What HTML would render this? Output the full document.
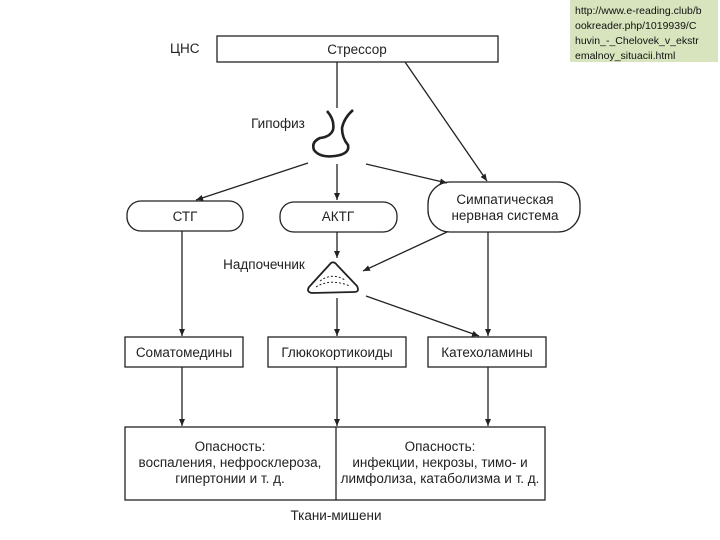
<!DOCTYPE html>
<html><head><meta charset="utf-8"><style>
html,body{margin:0;padding:0;background:#fff;}
body{width:720px;height:540px;overflow:hidden;position:relative;font-family:"Liberation Sans",sans-serif;}
.note{position:absolute;left:570px;top:0;width:148px;height:62px;background:#d7e4bd;font-size:10.5px;line-height:15px;color:#111;padding:4px 0 0 5px;box-sizing:border-box;}
svg{position:absolute;left:0;top:0;}
svg text{font-family:"Liberation Sans",sans-serif;fill:#222;}
</style></head><body>
<svg width="720" height="540" viewBox="0 0 720 540">
<defs><marker id="a" markerWidth="8" markerHeight="8" refX="7" refY="3" orient="auto" markerUnits="userSpaceOnUse"><path d="M0,0 L7,3 L0,6 Z" fill="#222"/></marker></defs>
<g stroke="#222" stroke-width="1.3" fill="none">
<rect x="217" y="36" width="281" height="26"/>
<rect x="127" y="201" width="116" height="30" rx="14"/>
<rect x="280" y="202" width="117" height="30" rx="14"/>
<rect x="428" y="182" width="152" height="50" rx="22"/>
<rect x="125" y="337" width="118" height="30"/>
<rect x="268" y="337" width="138" height="30"/>
<rect x="428" y="337" width="118" height="30"/>
<rect x="125" y="427" width="420" height="73"/>
<line x1="336" y1="427" x2="336" y2="500"/>
<line x1="337" y1="62" x2="337" y2="108"/>
<line x1="405" y1="62" x2="487" y2="181" marker-end="url(#a)"/>
<line x1="308" y1="163" x2="196" y2="200" marker-end="url(#a)"/>
<line x1="337" y1="164" x2="337" y2="200" marker-end="url(#a)"/>
<line x1="366" y1="164" x2="447" y2="183" marker-end="url(#a)"/>
<line x1="182" y1="231" x2="182" y2="336" marker-end="url(#a)"/>
<line x1="337" y1="232" x2="337" y2="258" marker-end="url(#a)"/>
<line x1="488" y1="232" x2="488" y2="336" marker-end="url(#a)"/>
<line x1="447" y1="232" x2="363" y2="271" marker-end="url(#a)"/>
<line x1="337" y1="298" x2="337" y2="336" marker-end="url(#a)"/>
<line x1="366" y1="296" x2="479" y2="336" marker-end="url(#a)"/>
<line x1="182" y1="367" x2="182" y2="426" marker-end="url(#a)"/>
<line x1="337" y1="367" x2="337" y2="426" marker-end="url(#a)"/>
<line x1="488" y1="367" x2="488" y2="426" marker-end="url(#a)"/>
<path d="M327,111 Q335,120 333,130 Q330,137 320,138 Q311,142 314,150 Q320,158 335,156 Q350,154 348,145 Q342,138 342,128 Q344,118 353,110" stroke-width="2.6"/>
<path d="M331,263 Q334,261 337,265 L357,286 Q360,292 354,292 L312,293 Q306,292 309,287 Z" stroke-width="1.8"/>
<path d="M316,287 Q330,278 350,286 M320,281 Q332,272 345,280" stroke-width="1" stroke-dasharray="2,2"/>
</g>
<g font-size="13.5" text-anchor="middle">
<text x="170" y="53" text-anchor="start">ЦНС</text>
<text x="357" y="54">Стрессор</text>
<text x="278" y="128">Гипофиз</text>
<text x="185" y="221">СТГ</text>
<text x="338" y="221">АКТГ</text>
<text x="505" y="204">Симпатическая</text>
<text x="505" y="220">нервная система</text>
<text x="264" y="269">Надпочечник</text>
<text x="184" y="357">Соматомедины</text>
<text x="337" y="357">Глюкокортикоиды</text>
<text x="487" y="357">Катехоламины</text>
<text x="230" y="451">Опасность:</text>
<text x="230" y="467">воспаления, нефросклероза,</text>
<text x="230" y="483">гипертонии и т. д.</text>
<text x="440" y="451">Опасность:</text>
<text x="440" y="467">инфекции, некрозы, тимо- и</text>
<text x="440" y="483">лимфолиза, катаболизма и т. д.</text>
<text x="336" y="520">Ткани-мишени</text>
</g>
</svg>
<div class="note">http://www.e-reading.club/b<br>ookreader.php/1019939/C<br>huvin_-_Chelovek_v_ekstr<br>emalnoy_situacii.html</div>
</body></html>
